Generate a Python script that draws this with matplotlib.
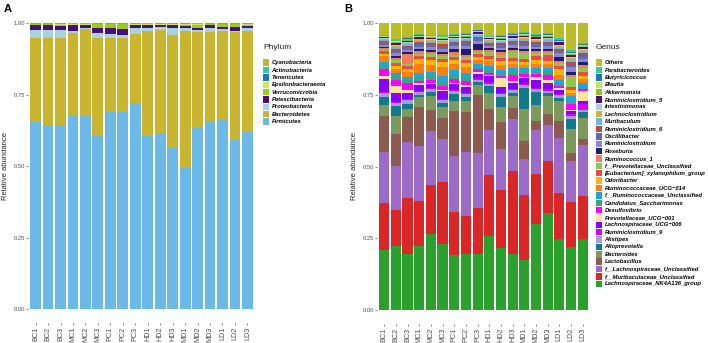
import numpy as np
import matplotlib
matplotlib.use("Agg")
import matplotlib.pyplot as plt
from matplotlib.patches import Rectangle

plt.rcParams["font.family"] = ["Liberation Sans", "DejaVu Sans"]

samples = ["BC1", "BC2", "BC3", "MC1", "MC2", "MC3", "PC1", "PC2", "PC3",
           "HD1", "HD2", "HD3", "MD1", "MD2", "MD3", "LD1", "LD2", "LD3"]

# ---- Panel A: phylum (bottom -> top) ----
phyla = ["Firmicutes", "Bacteroidetes", "Proteobacteria", "Patescibacteria",
         "Verrucomicrobia", "Epsilonbacteraeota", "Tenericutes", "Actinobacteria",
         "Cyanobacteria"]
phylum_colors = ["#6CB9E8", "#C9B52F", "#A6D3DC", "#4B0C7E", "#9CCB19",
                 "#CFE55A", "#1F78B4", "#3CC79A", "#BDB72E"]
firmicutes = [0.658, 0.646, 0.646, 0.682, 0.682, 0.608, 0.690, 0.696, 0.725,
              0.612, 0.614, 0.570, 0.494, 0.641, 0.663, 0.663, 0.593, 0.620]
bacteroidetes = [0.292, 0.309, 0.304, 0.288, 0.299, 0.342, 0.260, 0.254, 0.241,
                 0.364, 0.362, 0.392, 0.482, 0.333, 0.313, 0.313, 0.377, 0.356]
proteobacteria = [0.028, 0.027, 0.028, 0.006, 0.006, 0.018, 0.014, 0.012, 0.019,
                  0.012, 0.012, 0.023, 0.012, 0.005, 0.014, 0.006, 0.006, 0.009]
patescibacteria = [0.021, 0.018, 0.015, 0.021, 0.009, 0.018, 0.023, 0.021, 0.012,
                   0.009, 0.007, 0.012, 0.006, 0.009, 0.009, 0.008, 0.014, 0.008]
verrucomicrobia = [0.001, 0.002, 0.006, 0.001, 0.002, 0.014, 0.012, 0.016, 0.002,
                   0.002, 0.001, 0.002, 0.005, 0.012, 0.002, 0.009, 0.009, 0.006]
epsilonbacteraeota = [0.001, 0.001, 0.002, 0.002, 0.001, 0.001, 0.001, 0.001, 0.002,
                      0.001, 0.002, 0.002, 0.002, 0.001, 0.002, 0.001, 0.001, 0.002]
tenericutes = [0.001, 0.001, 0.001, 0.001, 0.001, 0.001, 0.001, 0.001, 0.001,
               0.001, 0.002, 0.001, 0.001, 0.001, 0.001, 0.001, 0.001, 0.001]
actinobacteria = [0.001, 0.001, 0.001, 0.001, 0.001, 0.001, 0.001, 0.001, 0.001,
                  0.001, 0.001, 0.001, 0.001, 0.001, 0.001, 0.001, 0.001, 0.001]
cyanobacteria = [0.001, 0.001, 0.001, 0.002, 0.002, 0.001, 0.001, 0.001, 0.001,
                 0.002, 0.001, 0.001, 0.001, 0.002, 0.001, 0.001, 0.001, 0.001]
phylum_values = [firmicutes, bacteroidetes, proteobacteria, patescibacteria,
                 verrucomicrobia, epsilonbacteraeota, tenericutes, actinobacteria,
                 cyanobacteria]

# ---- Panel B: genus (bottom -> top) ----
genera = ["Lachnospiraceae_NK4A136_group", "f__Muribaculaceae_Unclassified",
          "f__Lachnospiraceae_Unclassified", "Lactobacillus", "Bacteroides",
          "Alloprevotella", "Alistipes", "Ruminiclostridium_9",
          "Lachnospiraceae_UCG\u2212006", "Prevotellaceae_UCG\u2212001", "Desulfovibrio",
          "Candidatus_Saccharimonas", "f__Ruminococcaceae_Unclassified",
          "Ruminococcaceae_UCG\u2212014", "Odoribacter", "[Eubacterium]_xylanophilum_group",
          "f__Prevotellaceae_Unclassified", "Ruminococcus_1", "Roseburia",
          "Ruminiclostridium", "Oscillibacter", "Ruminiclostridium_6", "Muribaculum",
          "Lachnoclostridium", "Intestinimonas", "Ruminiclostridium_5", "Akkermansia",
          "Blautia", "Butyricicoccus", "Parabacteroides", "Others"]
genus_colors = ["#2CA02C", "#D92626", "#9B6BC7", "#8C5A4E", "#7C9A5E",
                "#137A8C", "#A09EDC", "#D400F8", "#8A00FF", "#FDE59C", "#FF00FF",
                "#3AA67F", "#1CA5E0", "#FF7F0E", "#FFB400", "#F04848",
                "#8CC84B", "#F47C5C", "#1E1E6E", "#8B86D8", "#5C6BB5", "#B84A4A",
                "#6BB7E4", "#CDB42E", "#A6CEE3", "#4B0C7E", "#8DC21F",
                "#C6E459", "#1F78B4", "#3ACA9A", "#BBBB2C"]

nk4a136 = [0.211, 0.223, 0.197, 0.223, 0.266, 0.231, 0.195, 0.195, 0.201,
           0.264, 0.220, 0.199, 0.175, 0.303, 0.341, 0.251, 0.222, 0.252]
muribac_unc = [0.163, 0.129, 0.194, 0.160, 0.174, 0.220, 0.152, 0.133, 0.161,
               0.214, 0.205, 0.293, 0.223, 0.178, 0.182, 0.162, 0.159, 0.151]
lachno_unc = [0.178, 0.151, 0.195, 0.192, 0.191, 0.149, 0.201, 0.223, 0.198,
              0.161, 0.144, 0.187, 0.125, 0.156, 0.125, 0.193, 0.142, 0.180]
lactobacillus = [0.127, 0.115, 0.088, 0.136, 0.072, 0.076, 0.160, 0.140, 0.207,
                 0.075, 0.099, 0.039, 0.063, 0.031, 0.037, 0.062, 0.031, 0.023]
bacteroides = [0.039, 0.061, 0.029, 0.035, 0.052, 0.038, 0.035, 0.041, 0.034,
               0.058, 0.052, 0.042, 0.111, 0.056, 0.064, 0.071, 0.085, 0.073]
alloprevotella = [0.025, 0.035, 0.017, 0.009, 0.012, 0.012, 0.024, 0.011, 0.012,
                  0.024, 0.035, 0.012, 0.075, 0.048, 0.011, 0.010, 0.035, 0.021]

# minor genera, percent, one row per sample:
# Alistipes, R_9, UCG-006, Prev_UCG-001, Desulfovibrio, Saccharimonas, f_Rum_Unc,
# Rum_UCG-014, Odoribacter, Eubacterium, f_Prev_Unc, Rum_1, Roseburia, Ruminiclostridium,
# Oscillibacter, R_6, Muribaculum, Lachnoclostridium, Intestinimonas, R_5, Akkermansia,
# Blautia, Butyricicoccus, Parabacteroides
minor_pct = [
    [1.5, 0.4, 4.5, 1.2, 2.5, 1.2, 1.2, 2.0, 0.8, 0.8, 0.6, 0.6, 0.4, 0.8, 0.6, 0.6, 0.4, 0.3, 0.3, 0.3, 0.2, 0.2, 0.2, 0.2],
    [1.0, 0.3, 3.2, 2.6, 2.2, 1.2, 1.0, 1.6, 1.0, 1.2, 0.8, 0.8, 0.6, 1.0, 0.8, 0.8, 0.6, 0.4, 0.5, 0.5, 0.3, 0.3, 0.3, 0.7],
    [1.2, 0.4, 2.2, 1.0, 2.5, 1.0, 1.2, 1.5, 1.2, 1.0, 0.8, 3.5, 0.5, 0.8, 0.7, 0.8, 0.6, 0.4, 0.4, 0.4, 0.4, 0.3, 0.3, 0.3],
    [0.8, 0.6, 2.0, 0.6, 0.8, 1.2, 1.5, 3.2, 1.8, 1.0, 0.6, 1.2, 0.6, 1.0, 0.8, 0.7, 0.6, 0.4, 0.3, 0.5, 0.2, 0.2, 0.3, 0.5],
    [1.0, 0.5, 1.2, 0.5, 1.0, 1.5, 1.4, 2.4, 1.8, 1.0, 1.2, 0.8, 0.5, 1.0, 0.8, 0.8, 0.5, 0.4, 0.3, 0.4, 0.3, 0.3, 0.2, 0.3],
    [1.2, 0.5, 2.5, 0.6, 1.2, 1.5, 2.2, 3.0, 1.8, 1.2, 0.8, 1.0, 0.6, 1.0, 0.8, 0.8, 0.6, 0.5, 0.4, 0.4, 0.3, 0.3, 0.3, 0.5],
    [1.0, 0.4, 2.2, 0.5, 1.5, 1.2, 1.8, 2.0, 1.5, 1.2, 0.8, 0.8, 1.2, 1.0, 0.8, 0.7, 0.6, 0.4, 0.3, 0.4, 0.2, 0.3, 0.2, 0.3],
    [1.2, 0.5, 2.0, 0.6, 1.5, 1.2, 1.5, 2.2, 1.5, 1.0, 1.0, 0.8, 2.0, 1.0, 0.8, 0.8, 0.5, 0.4, 0.4, 0.4, 0.3, 0.3, 0.3, 0.4],
    [0.8, 0.6, 1.5, 0.5, 1.2, 0.8, 1.0, 1.5, 1.0, 1.0, 0.8, 0.8, 2.0, 1.2, 0.8, 0.6, 0.4, 0.3, 0.3, 0.5, 0.2, 0.2, 0.3, 0.3],
    [0.8, 0.6, 2.0, 0.5, 0.8, 1.0, 1.5, 1.5, 1.0, 1.0, 1.2, 0.8, 0.6, 0.8, 0.6, 0.6, 0.5, 0.4, 0.3, 0.4, 0.2, 0.2, 0.2, 0.3],
    [1.0, 0.5, 2.0, 3.2, 0.8, 1.0, 1.2, 1.8, 1.2, 1.2, 1.0, 1.0, 0.6, 1.0, 0.8, 0.7, 0.5, 0.4, 0.4, 0.4, 0.3, 0.3, 0.3, 0.4],
    [0.8, 0.6, 2.2, 0.6, 2.0, 1.0, 1.5, 1.5, 1.0, 1.2, 2.0, 0.8, 0.6, 1.0, 0.8, 0.7, 0.5, 0.4, 0.3, 0.5, 0.3, 0.3, 0.3, 0.4],
    [0.8, 0.5, 2.0, 0.5, 0.8, 1.0, 1.2, 1.2, 1.0, 1.0, 2.0, 0.8, 0.5, 1.0, 1.2, 0.8, 0.5, 0.4, 0.4, 0.5, 0.3, 0.3, 0.3, 0.4],
    [1.0, 0.5, 2.5, 1.2, 1.0, 1.0, 1.2, 1.5, 1.2, 1.5, 1.0, 0.8, 0.6, 1.0, 0.8, 0.8, 0.5, 0.4, 0.3, 0.5, 0.3, 0.3, 0.3, 0.4],
    [0.8, 0.6, 2.0, 1.0, 2.0, 1.0, 1.2, 1.5, 1.2, 1.8, 0.8, 0.8, 0.6, 1.0, 0.8, 0.8, 0.5, 0.4, 0.4, 0.5, 0.3, 0.3, 0.3, 0.4],
    [0.8, 0.5, 1.5, 0.6, 0.8, 1.0, 1.2, 1.5, 2.2, 1.0, 1.0, 0.8, 1.5, 1.2, 0.8, 0.8, 0.5, 0.4, 0.4, 1.0, 0.3, 0.3, 0.3, 0.5],
    [1.0, 0.5, 1.0, 0.5, 2.0, 1.0, 1.8, 1.2, 1.0, 1.0, 3.5, 1.0, 1.0, 1.5, 1.0, 1.0, 0.8, 0.5, 0.5, 0.6, 0.4, 0.4, 0.4, 0.6],
    [0.8, 2.0, 1.2, 3.5, 0.6, 1.0, 1.2, 1.5, 1.2, 1.2, 1.5, 1.0, 1.0, 1.2, 1.0, 1.0, 0.6, 0.5, 0.5, 0.6, 0.3, 0.4, 0.3, 0.5],
]
others = [0.042, 0.054, 0.048, 0.037, 0.042, 0.042, 0.040, 0.034, 0.023,
          0.045, 0.042, 0.034, 0.030, 0.037, 0.034, 0.054, 0.094, 0.070]

W, H = 708, 343
GREY = "#4D4D4D"


def fill_stack(rows):
    # like ggplot position = "fill": each sample sums to 1
    m = np.array(rows, dtype=float)
    return m / m.sum(axis=0)


def stacked(ax, mat, colors):
    x = np.arange(len(samples))
    bottom = np.zeros(len(samples))
    for vals, c in zip(mat, colors):
        ax.bar(x, vals, bottom=bottom, width=0.87, color=c, linewidth=0)
        bottom += vals
    ax.set_xlim(-0.6, len(samples) - 0.4)
    ax.set_ylim(-0.05, 1.05)
    ax.set_xticks(x)
    ax.set_xticklabels(samples, rotation=90, fontsize=5.2, color=GREY)
    ax.set_yticks([0, 0.25, 0.5, 0.75, 1.0])
    ax.set_yticklabels(["0.00", "0.25", "0.50", "0.75", "1.00"], fontsize=4.2, color=GREY)
    ax.tick_params(length=1.5, width=0.5, color=GREY, pad=1)
    for s in ax.spines.values():
        s.set_visible(False)


def legend(fig, title, names, colors, x0, y0, step=7.37):
    fig.text(x0 / W, 1 - 47.5 / H, title, fontsize=6, color="#222222", va="center")
    for i, (n, c) in enumerate(zip(names, colors)):
        yc = y0 + i * step
        fig.patches.append(Rectangle((x0 / W, 1 - (yc + 3.2) / H), 6.4 / W, 6.4 / H,
                                     transform=fig.transFigure, color=c, linewidth=0))
        fig.text((x0 + 8.5) / W, 1 - yc / H, n, fontsize=4.2, fontweight="bold",
                 style="italic", va="center", color="black")


fig = plt.figure(figsize=(W / 100, H / 100), dpi=100)

axA = fig.add_axes([0.0397, 0.0574, 0.3203, 0.917])
stacked(axA, fill_stack(phylum_values), phylum_colors)

genus_values = [nk4a136, muribac_unc, lachno_unc, lactobacillus, bacteroides, alloprevotella]
genus_values += (np.array(minor_pct).T / 100.0).tolist()
genus_values.append(others)
axB = fig.add_axes([0.5328, 0.0544, 0.300, 0.920])
stacked(axB, fill_stack(genus_values), genus_colors)

fig.text(8 / W, 1 - 9.5 / H, "A", fontsize=8, fontweight="bold", ha="center", va="center")
fig.text(348 / W, 1 - 9.5 / H, "B", fontsize=8, fontweight="bold", ha="center", va="center")
fig.text(6 / W, 1 - 166 / H, "Relative abundance", rotation=90, fontsize=5.5,
         ha="center", va="center", color="#222222")
fig.text(355 / W, 1 - 166 / H, "Relative abundance", rotation=90, fontsize=5.5,
         ha="center", va="center", color="#222222")

legend(fig, "Phylum", phyla[::-1], phylum_colors[::-1], 263, 62.7)
legend(fig, "Genus", genera[::-1], genus_colors[::-1], 596, 62.7)

fig.savefig("out.png", dpi=100)
